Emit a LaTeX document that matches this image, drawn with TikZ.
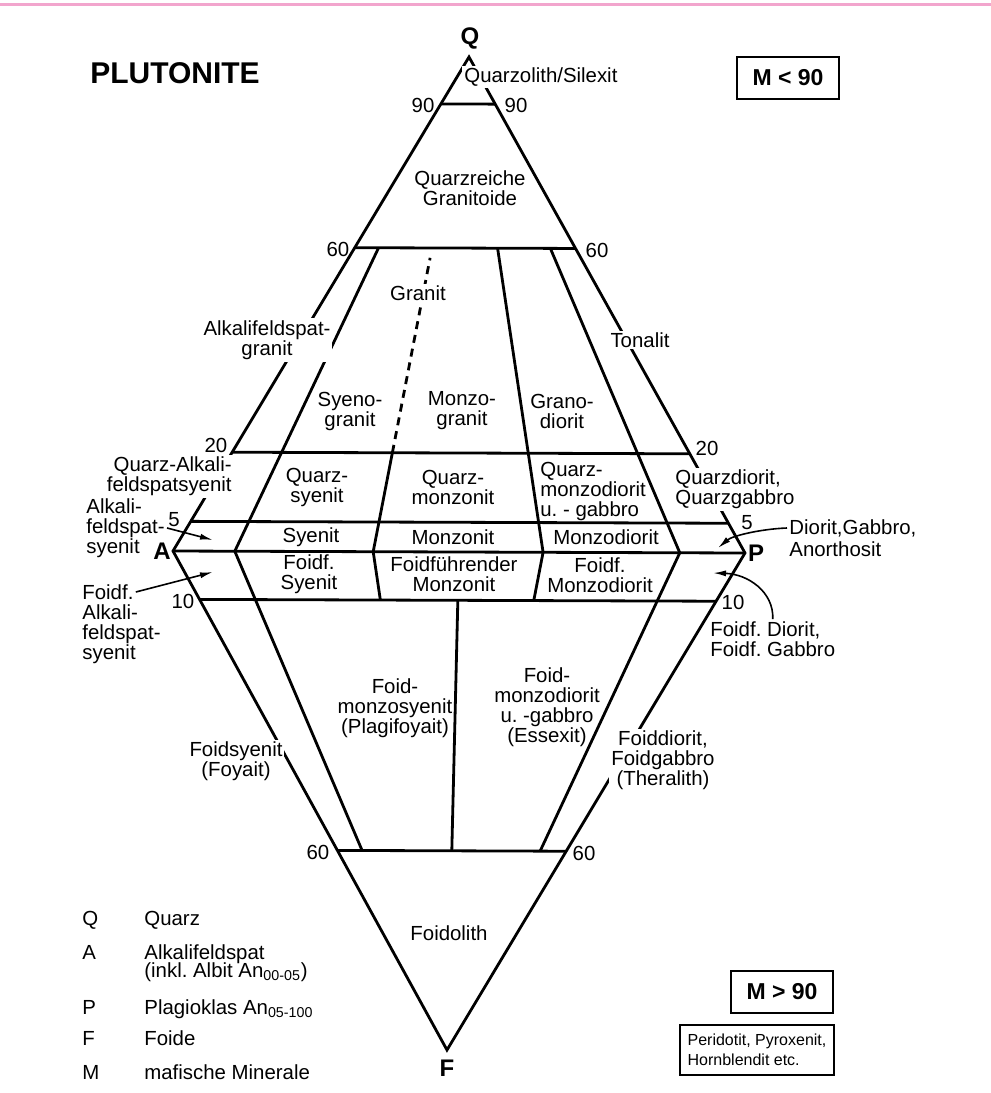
\documentclass[tikz,border=0pt]{standalone}
\usepackage{fontspec}
\setmainfont{Liberation Sans}
\usetikzlibrary{calc}
\usetikzlibrary{arrows.meta}
\usetikzlibrary{positioning}

\definecolor{pinkline}{RGB}{242,165,205}
\frenchspacing

\begin{document}
\begin{tikzpicture}[
        x=0.5pt, y=-0.5pt,
        every node/.style={font=\fontsize{10.2}{10}\selectfont, inner sep=1pt, align=center},
        field/.style={line width=1.4pt},
        blank/.style={fill=white},
        corner/.style={font=\fontsize{12}{12}\selectfont\bfseries},
        key/.style={anchor=base west},
        pointer/.style={line width=0.8pt, -{Latex[length=6.5pt,width=3pt]}},
        mbox/.style={draw, line width=1pt, font=\fontsize{11.5}{12}\selectfont\bfseries, minimum width=51pt, minimum height=21pt},
        >=Latex
    ]
        \useasboundingbox (0,0) rectangle (991,1093);
        \draw[pinkline, line width=1.5pt] (0,4) -- (991,4);

        % corners of the double triangle
        \coordinate (Q) at (469,57);
        \coordinate (A) at (173,551);
        \coordinate (P) at (745,553);
        \coordinate (F) at (447,1050);
        \foreach \n/\r in {a/0.108, b/0.35, c/0.5, d/0.647, e/0.886}
            \coordinate (\n) at ($(A)!\r!(P)$);

        \draw[field] (A) -- (Q) -- (P) -- (F) -- cycle;
        \draw[field] (A) -- (P);
        \foreach \q in {0.905, 0.614, 0.2, 0.06}
            \draw[field] ($(A)!\q!(Q)$) -- ($(P)!\q!(Q)$);
        \foreach \q in {0.097, 0.6}
            \draw[field] ($(A)!\q!(F)$) -- ($(P)!\q!(F)$);

        % dividers
        \foreach \n in {a, d, e}
            \draw[field] (\n) -- ($(\n)!0.614!(Q)$);
        \draw[field] (b) -- ($(b)!0.2!(Q)$);
        \draw[field, dash pattern=on 4pt off 3pt] ($(b)!0.2!(Q)$) -- ($(b)!0.594!(Q)$);
        \foreach \n in {a, e}
            \draw[field] (\n) -- ($(\n)!0.6!(F)$);
        \foreach \n in {b, d}
            \draw[field] (\n) -- ($(\n)!0.097!(F)$);
        \draw[field] ($(c)!0.097!(F)$) -- ($(c)!0.6!(F)$);

        % corner letters and scale values
        \node[corner] (Qlab) at ($(Q)+(1,-19)$) {Q};
        \node[corner] (Alab) at ($(A)+(-11,0)$) {A};
        \node[corner] (Plab) at ($(P)+(11,0)$) {P};
        \node[corner] (Flab) at ($(F)+(0,18)$) {F};
        \node (q90l) at (423,105) {90};
        \node (q90r) at (516,105) {90};
        \node (q60l) at (338,249) {60};
        \node (q60r) at (597,250) {60};
        \node (q20l) at (216,445) {20};
        \node (q20r) at (707,448) {20};
        \node (q5l) at (174,520) {5};
        \node (q5r) at (747,523) {5};
        \node (f10l) at (183,601) {10};
        \node (f10r) at (733,602) {10};
        \node (f60l) at (318,852) {60};
        \node (f60r) at (584,853) {60};

        % fields
        \node[blank, anchor=west] (silexit) at (462,77) {Quarzolith/Silexit};
        \node (qrg) at (470,188) {Quarzreiche\\Granitoide};
        \node[blank] (granit) at (418,293) {Granit};
        \node[blank] (afgranit) at (267,340) {Alkalifeldspat-\\granit};
        \node[blank] (tonalit) at (640,340) {Tonalit};
        \node (syenogr) at (350,411) {Syeno-\\granit};
        \node (monzogr) at (462,411) {Monzo-\\granit};
        \node (granod) at (562,411) {Grano-\\diorit};
        \node (qsyenit) at (317,487) {Quarz-\\syenit};
        \node (qmonzonit) at (453,487) {Quarz-\\monzonit};
        \node[anchor=west, align=left] (qmonzod) at (538,491) {Quarz-\\monzodiorit\\u. - gabbro};
        \node[blank, anchor=west, align=left] (qdiorit) at (673,489) {Quarzdiorit,\\Quarzgabbro};
        \node[blank, anchor=east, align=right] (qafs) at (234,476) {Quarz-Alkali-\\feldspatsyenit};
        \node (syenit) at (311,537) {Syenit};
        \node (monzonit) at (453,537) {Monzonit};
        \node (monzod) at (606,537) {Monzodiorit};
        \node (fsyenit) at (309,574) {Foidf.\\Syenit};
        \node (fmonzonit) at (454,574) {Foidführender\\Monzonit};
        \node (fmonzod) at (600,575) {Foidf.\\Monzodiorit};
        \node[blank] (foyait) at (236,761) {Foidsyenit\\(Foyait)};
        \node (plagif) at (395,708) {Foid-\\monzosyenit\\(Plagifoyait)};
        \node (essexit) at (547,707) {Foid-\\monzodiorit\\u. -gabbro\\(Essexit)};
        \node[blank] (theralith) at (663,760) {Foiddiorit,\\Foidgabbro\\(Theralith)};
        \node (foidolith) at (449,933) {Foidolith};

        % side labels with arrows
        \node[anchor=west, align=left] (afs) at (84,528) {Alkali-\\feldspat-\\syenit};
        \node[anchor=west] (fafs) at (80,592) {Foidf.};
        \node[anchor=north west, align=left] (fafs2) at (fafs.south west) {Alkali-\\feldspat-\\syenit};
        \node[anchor=west] (dg) at (787,528) {Diorit,Gabbro,};
        \node[anchor=north west] (dg2) at (dg.south west) {Anorthosit};
        \node[anchor=west, align=left] (fdg) at (708,639) {Foidf. Diorit,\\Foidf. Gabbro};
        \coordinate (afsP) at (213,540);
        \coordinate (fafsP) at (213,572);
        \coordinate (dgP) at (718,548);
        \coordinate (fdgP) at (713,573);
        \draw[pointer] (afs.east) -- (afsP);
        \draw[pointer] (fafs.east) -- (fafsP);
        \draw[pointer] (dg.west) .. controls (760,529) and (732,536) .. (dgP);
        \draw[pointer] (fdg.north) .. controls (774,592) and (748,574) .. (fdgP);

        % title, boxes, legend
        \node[font=\fontsize{15}{15}\selectfont\bfseries] (title) at (175,73) {PLUTONITE};
        \node[mbox] (mlow) at (788,78) {M < 90};
        \node[mbox] (mhigh) at (782,992) {M > 90};
        \node[draw, line width=1pt, align=left, font=\fontsize{8}{10}\selectfont, inner xsep=4pt, minimum width=77pt, minimum height=25pt] (ultra) at (757,1050) {Peridotit, Pyroxenit,\\Hornblendit etc.};

        \foreach \n/\y/\k/\t in {Q/925/Q/Quarz, A/959/A/Alkalifeldspat, P/1014/P/Plagioklas An\textsubscript{05-100}, F/1045/F/Foide, M/1079/M/mafische Minerale} {
            \node[key] (k\n) at (80,\y) {\k};
            \node[key] (t\n) at (142,\y) {\t};
        }
        \node[key] (tA2) at (142,977) {(inkl. Albit An\textsubscript{00-05})};
    \end{tikzpicture}
\end{document}
